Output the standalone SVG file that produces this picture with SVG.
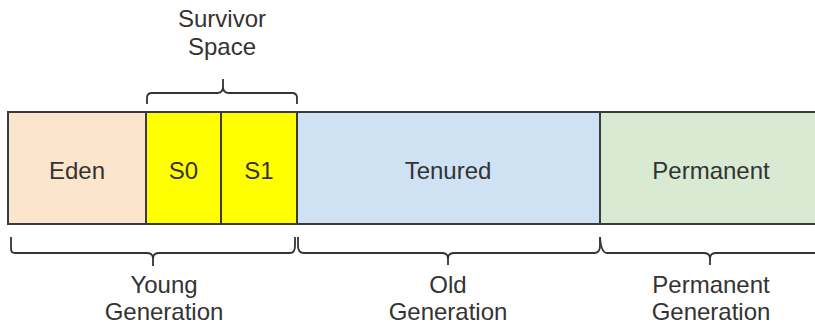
<svg xmlns="http://www.w3.org/2000/svg" width="815" height="326" viewBox="0 0 815 326">
<style>
.box{stroke:#3a3a3a;stroke-width:2}
.lbl{font-family:"Liberation Sans",Arial,sans-serif;font-size:24px;fill:#333;text-anchor:middle}
.br{fill:none;stroke:#333;stroke-width:1.8}
</style>
<rect width="815" height="326" fill="#fff"/>
<g id="eden"><rect class="box" x="8" y="112" width="138" height="112" fill="#fce5cd"/><text class="lbl" x="77" y="179">Eden</text></g>
<g id="s0"><rect class="box" x="146" y="112" width="75" height="112" fill="#ffff00"/><text class="lbl" x="183.5" y="179">S0</text></g>
<g id="s1"><rect class="box" x="221" y="112" width="76" height="112" fill="#ffff00"/><text class="lbl" x="259" y="179">S1</text></g>
<g id="tenured"><rect class="box" x="297" y="112" width="303" height="112" fill="#cfe2f3"/><text class="lbl" x="448" y="179">Tenured</text></g>
<g id="permanent"><rect class="box" x="600" y="112" width="230" height="112" fill="#d9ead3"/><text class="lbl" x="711" y="179">Permanent</text></g>
<g id="brackets">
<path class="br" d="M147 104 L147 98 Q147 93 152 93 L217 93 Q223 93 223 87 L223 79 M223 87 Q223 93 229 93 L292 93 Q297 93 297 98 L297 104"/>
<path class="br" d="M11 237 L11 249 Q11 253 15 253 L147 253 Q153 253 153 259 L153 266 M153 259 Q153 253 159 253 L290 253 Q295 253 295 246 L295 237"/>
<path class="br" d="M298 237 L298 246 Q298 253 304 253 L442 253 Q448 253 448 259 L448 265 M448 259 Q448 253 454 253 L594 253 Q600 253 600 246 L600 237"/>
<path class="br" d="M600 237 Q601 253 607 253 L704 253 Q710 253 710 259 L710 265 M710 259 Q710 253 716 253 L830 253"/>
</g>
<g id="survivor-label"><text class="lbl" x="222" y="27">Survivor</text><text class="lbl" x="222" y="55">Space</text></g>
<g id="young-label"><text class="lbl" x="164" y="293">Young</text><text class="lbl" x="164" y="320">Generation</text></g>
<g id="old-label"><text class="lbl" x="448" y="293">Old</text><text class="lbl" x="448" y="320">Generation</text></g>
<g id="perm-label"><text class="lbl" x="711" y="293">Permanent</text><text class="lbl" x="711" y="320">Generation</text></g>
</svg>
